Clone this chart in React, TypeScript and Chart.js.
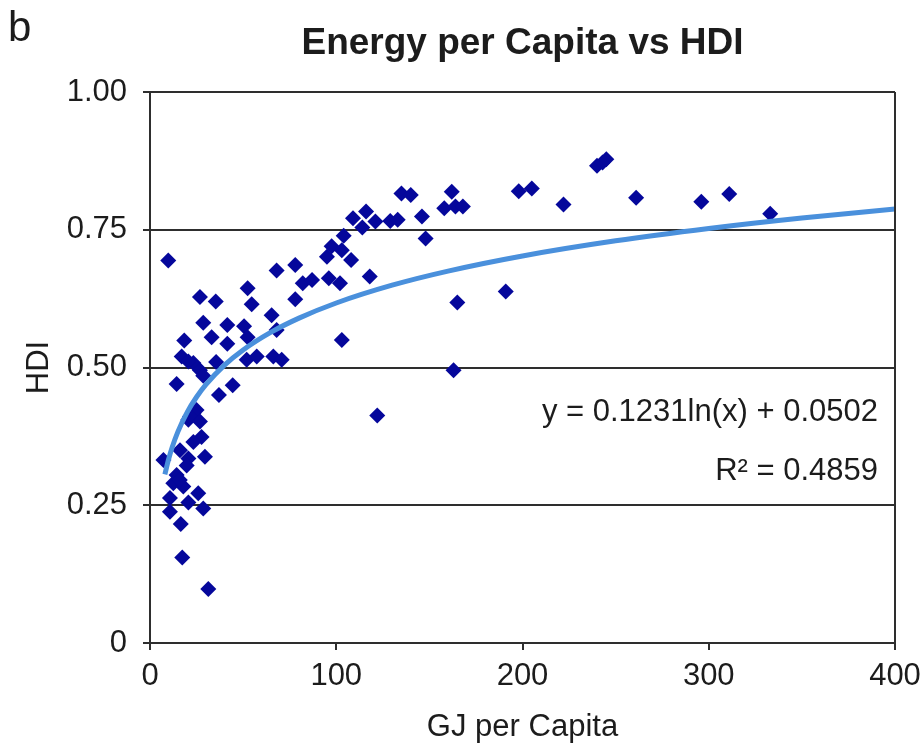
import React, { useEffect, useRef } from "react";
import { Chart, registerables } from "chart.js";

Chart.register(...registerables);

// GJ per capita (x) and HDI (y) for each country point
const energyGJ: number[] = [
  162, 158, 164, 168, 148, 165, 191, 198, 205, 222, 240, 243, 245, 261, 296, 311, 333,
  163, 122, 135, 140, 146, 109, 116, 121, 114, 129, 133, 104, 97.5, 95, 103, 108, 118,
  78, 68, 82, 87, 96, 102, 78, 103,
  9.8, 26.8, 35.3, 52.4, 54.6, 65.3, 28.6, 41.5, 50.5, 33.1, 41.5, 52.4, 68, 18.4, 17,
  23.3, 35.5, 51.9, 57.3, 66.2, 70.7, 20.6, 26.8, 28.6, 14.3, 37, 44.4, 23.3, 20.6, 25,
  21.5, 26.8, 27.7, 23.3, 16.1, 7.2, 20.6, 29.5, 19.7, 14.3, 12.5, 17.9, 10.7, 25.9,
  20.6, 10.7, 28.6, 16.5, 17.3, 31.3, 16,
];
const hdi: number[] = [
  0.819, 0.789, 0.792, 0.792, 0.734, 0.618, 0.638, 0.82, 0.825, 0.796, 0.866, 0.872, 0.878, 0.808, 0.801, 0.815, 0.779,
  0.495, 0.413, 0.816, 0.813, 0.774, 0.771, 0.783, 0.765, 0.754, 0.766, 0.768, 0.739, 0.72, 0.701, 0.713, 0.695, 0.665,
  0.686, 0.676, 0.653, 0.659, 0.662, 0.653, 0.624, 0.55,
  0.694, 0.628, 0.62, 0.644, 0.615, 0.595, 0.581, 0.577, 0.575, 0.555, 0.543, 0.555, 0.568, 0.549, 0.52,
  0.508, 0.51, 0.514, 0.52, 0.52, 0.514, 0.511, 0.495, 0.485, 0.47, 0.45, 0.468, 0.417, 0.405, 0.423,
  0.411, 0.402, 0.374, 0.365, 0.35, 0.332, 0.335, 0.338, 0.322, 0.305, 0.29, 0.284, 0.263, 0.272,
  0.255, 0.238, 0.244, 0.216, 0.155, 0.098, 0.296,
];

// Logarithmic trendline as printed on the chart: y = 0.1231 ln(x) + 0.0502
const TREND_A = 0.1231;
const TREND_B = 0.0502;
const trendX: number[] = [8, 10, 12, 15, 20, 25, 30, 40, 50, 65, 80, 100, 130, 160, 200, 250, 300, 350, 400];

const xTicks: number[] = [0, 100, 200, 300, 400];
const yTicks: number[] = [0, 0.25, 0.5, 0.75, 1];
const yTickLabels: string[] = ["0", "0.25", "0.50", "0.75", "1.00"];

const TITLE = "Energy per Capita vs HDI";
const PANEL = "b";
const EQUATION = "y = 0.1231ln(x) + 0.0502";
const R_SQUARED = "R² = 0.4859";

const FONT = '"Liberation Sans", Arial, Helvetica, sans-serif';
const TEXT = "#1c1c1c";
const LINE = "#2e2e2e";

export default function App() {
  const ref = useRef<HTMLCanvasElement | null>(null);

  useEffect(() => {
    if (!ref.current) return;
    const points = energyGJ.map((x, i) => ({ x, y: hdi[i] }));
    const trend = trendX.map((x) => ({ x, y: TREND_A * Math.log(x) + TREND_B }));

    const decor = {
      id: "decor",
      afterDraw(chart: any) {
        const { ctx, chartArea } = chart;
        ctx.save();
        // right frame line
        ctx.strokeStyle = LINE;
        ctx.lineWidth = 2;
        ctx.beginPath();
        ctx.moveTo(chartArea.right, chartArea.top);
        ctx.lineTo(chartArea.right, chartArea.bottom);
        ctx.stroke();
        ctx.fillStyle = TEXT;
        ctx.textBaseline = "middle";
        // panel letter
        ctx.textAlign = "left";
        ctx.font = `42px ${FONT}`;
        ctx.fillText(PANEL, 8, 29);
        // title
        ctx.textAlign = "center";
        ctx.font = `bold 37px ${FONT}`;
        ctx.fillText(TITLE, (chartArea.left + chartArea.right) / 2, 44);
        // equation
        ctx.textAlign = "right";
        ctx.font = `31px ${FONT}`;
        ctx.fillText(EQUATION, chartArea.right - 17, chartArea.top + 320);
        ctx.fillText(R_SQUARED, chartArea.right - 17, chartArea.top + 379);
        ctx.restore();
      },
    };

    const chart = new Chart(ref.current, {
      type: "scatter",
      data: {
        datasets: [
          {
            type: "line",
            label: "Trend",
            data: trend,
            borderColor: "#4a90dc",
            borderWidth: 5,
            pointRadius: 0,
            tension: 0.4,
            cubicInterpolationMode: "monotone",
            fill: false,
            order: 0,
          } as any,
          {
            label: "Countries",
            data: points,
            pointStyle: "rectRot",
            pointRadius: 8,
            backgroundColor: "#05079b",
            borderColor: "#05079b",
            borderWidth: 0,
            order: 1,
          },
        ],
      },
      options: {
        responsive: false,
        animation: false,
        layout: { padding: { left: 0, right: 29, top: 92, bottom: 0 } },
        plugins: {
          legend: { display: false },
          title: { display: false },
          tooltip: { enabled: false },
        },
        scales: {
          x: {
            type: "linear",
            min: 0,
            max: 400,
            afterBuildTicks: (s: any) => {
              s.ticks = xTicks.map((v) => ({ value: v }));
            },
            afterFit: (s: any) => {
              s.height = 106;
              s.paddingLeft = 0;
              s.paddingRight = 0;
            },
            ticks: {
              color: TEXT,
              font: { family: FONT, size: 31 },
              padding: 8,
              maxRotation: 0,
            },
            grid: {
              drawOnChartArea: false,
              drawTicks: true,
              tickLength: 7,
              color: LINE,
              lineWidth: 2,
            },
            border: { display: true, color: LINE, width: 2 },
            title: {
              display: true,
              text: "GJ per Capita",
              color: TEXT,
              font: { family: FONT, size: 31 },
              padding: { top: 0, bottom: 3 },
            },
          },
          y: {
            type: "linear",
            min: 0,
            max: 1,
            afterBuildTicks: (s: any) => {
              s.ticks = yTicks.map((v) => ({ value: v }));
            },
            afterFit: (s: any) => {
              s.width = 150;
              s.paddingTop = 0;
              s.paddingBottom = 0;
            },
            ticks: {
              color: TEXT,
              font: { family: FONT, size: 31 },
              padding: 16,
              callback: (v: any) => {
                const i = yTicks.indexOf(Number(v));
                return i >= 0 ? yTickLabels[i] : "";
              },
            },
            grid: {
              drawTicks: true,
              tickLength: 7,
              color: LINE,
              lineWidth: 2,
            },
            border: { display: true, color: LINE, width: 2 },
            title: {
              display: true,
              text: "HDI",
              color: TEXT,
              font: { family: FONT, size: 31 },
              padding: { top: 21, bottom: 0 },
            },
          },
        },
      },
      plugins: [decor],
    });

    return () => chart.destroy();
  }, []);

  return (
    <div style={{ position: "absolute", left: 0, top: 0, width: 924, height: 749 }}>
      <canvas ref={ref} width={924} height={749} />
    </div>
  );
}
